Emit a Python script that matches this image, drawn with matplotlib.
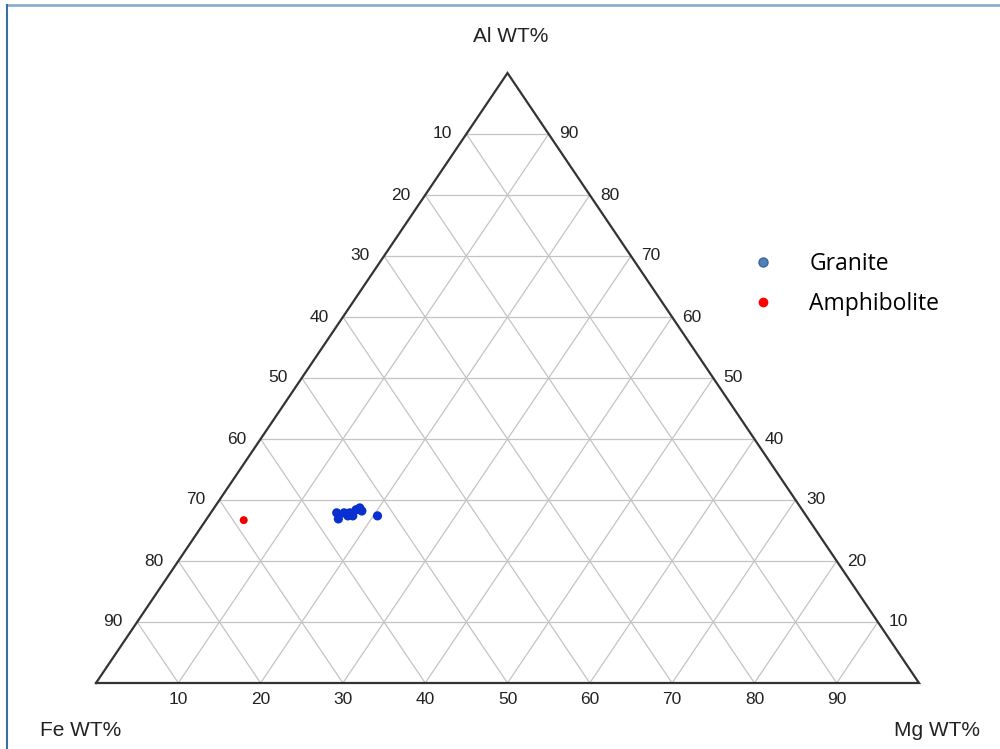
import matplotlib
matplotlib.use("Agg")
import matplotlib.pyplot as plt
from matplotlib.lines import Line2D

# Composition data (wt%): Fe, Mg, Al
granite_fe = [56.8, 57.1, 55.9, 55.7, 55.1, 55.2, 54.2, 53.6, 53.6, 52.1]
granite_mg = [15.3, 16.0, 16.2, 16.9, 17.5, 16.9, 17.4, 17.7, 18.2, 20.5]
granite_al = [27.9, 26.9, 27.9, 27.4, 27.4, 27.9, 28.4, 28.7, 28.2, 27.4]

amph_fe = [68.7]
amph_mg = [4.6]
amph_al = [26.7]

tick_values = [10, 20, 30, 40, 50, 60, 70, 80, 90]
corner_labels = ["Fe WT%", "Mg WT%", "Al WT%"]
series_names = ["Granite", "Amphibolite"]


def to_xy(fe, mg, al):
    """Ternary (Fe left, Mg right, Al top) -> cartesian in a unit triangle box."""
    xs, ys = [], []
    for a, b, c in zip(fe, mg, al):
        t = a + b + c
        y = c / t
        xs.append(b / t + y / 2)
        ys.append(y)
    return xs, ys


W, H = 1000, 749
fig = plt.figure(figsize=(W / 100, H / 100), dpi=100)
fig.patch.set_facecolor("white")

# slide-style frame edges
fig.add_artist(Line2D([7 / W, 1.0], [1 - 5 / H, 1 - 5 / H], color="#8eaed0", lw=2.0))
fig.add_artist(Line2D([7 / W, 7 / W], [0, 1 - 5 / H], color="#3c6da3", lw=1.5))

ax = fig.add_axes([96 / W, 66 / H, 823 / W, 610 / H])
ax.set_xlim(0, 1)
ax.set_ylim(0, 1)
ax.axis("off")

label_font = ["Liberation Sans", "DejaVu Sans"]
grid_color = "#c4c4c4"
text_color = "#222222"

# grid lines for each component
for v in tick_values:
    f = v / 100
    ax.plot([f / 2, 1 - f / 2], [f, f], color=grid_color, lw=0.9, zorder=1)
    ax.plot([f, (1 + f) / 2], [0, 1 - f], color=grid_color, lw=0.9, zorder=1)
    ax.plot([1 - f, (1 - f) / 2], [0, 1 - f], color=grid_color, lw=0.9, zorder=1)

# triangle outline
ax.plot([0, 1, 0.5, 0], [0, 0, 1, 0], color="#333333", lw=1.6, zorder=2,
        solid_joinstyle="miter", clip_on=False)

# tick labels
tick_size = 12.5
for v in tick_values:
    f = v / 100
    ax.annotate(str(v), (f, 0), xytext=(0, -17), textcoords="offset pixels",
                ha="center", va="center", fontsize=tick_size, family=label_font, color=text_color)
    ax.annotate(str(v), ((1 - f) / 2, 1 - f), xytext=(-24, 0), textcoords="offset pixels",
                ha="center", va="center", fontsize=tick_size, family=label_font, color=text_color)
    ax.annotate(str(v), (1 - f / 2, f), xytext=(20, 0), textcoords="offset pixels",
                ha="center", va="center", fontsize=tick_size, family=label_font, color=text_color)

# corner labels
corner_size = 15
ax.annotate(corner_labels[0], (0, 0), xytext=(-15, -48), textcoords="offset pixels",
            ha="center", va="center", fontsize=corner_size, family=label_font, color=text_color)
ax.annotate(corner_labels[1], (1, 0), xytext=(18, -48), textcoords="offset pixels",
            ha="center", va="center", fontsize=corner_size, family=label_font, color=text_color)
ax.annotate(corner_labels[2], (0.5, 1), xytext=(3, 36), textcoords="offset pixels",
            ha="center", va="center", fontsize=corner_size, family=label_font, color=text_color)

# data points
gx, gy = to_xy(granite_fe, granite_mg, granite_al)
ax.scatter(gx, gy, s=44, color="#0a2fd0", edgecolors="none", zorder=3)
rx, ry = to_xy(amph_fe, amph_mg, amph_al)
ax.scatter(rx, ry, s=33, color="#ee0000", edgecolors="none", zorder=3)

handles = [
    Line2D([], [], ls="none", marker="o", markersize=6.5,
           markerfacecolor="#4f81bd", markeredgecolor="#3a6795", markeredgewidth=1.0),
    Line2D([], [], ls="none", marker="o", markersize=6.0,
           markerfacecolor="#ff0000", markeredgecolor="#ff0000"),
]
fig.legend(handles, series_names, loc="upper left",
           bbox_to_anchor=(752 / W, 1 - 252 / H), frameon=False,
           borderpad=0, borderaxespad=0, handlelength=0.95, handletextpad=1.55,
           labelspacing=0.72, prop={"family": ["Open Sans", "DejaVu Sans"], "size": 16.5})

fig.savefig("out.png", dpi=100, facecolor="white")
